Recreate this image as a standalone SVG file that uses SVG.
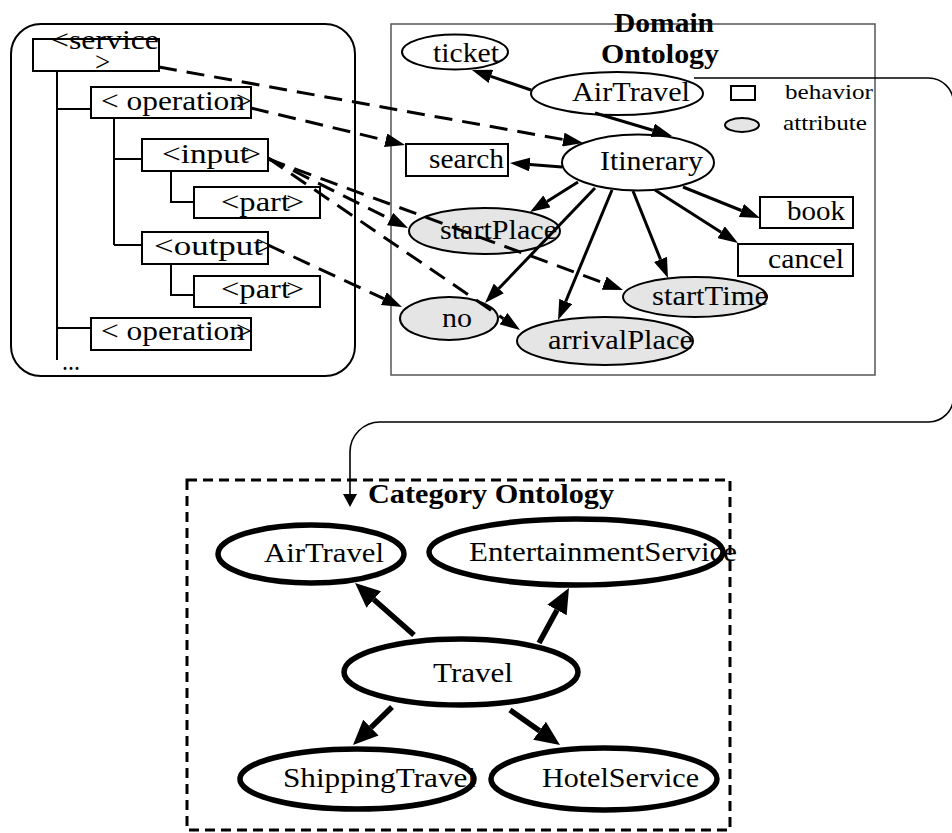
<svg xmlns="http://www.w3.org/2000/svg" width="952" height="833" viewBox="0 0 952 833">
  <style>
    text { font-family: "Liberation Serif", "Times New Roman", serif; font-size: 27px; fill: #000; }
    .ttl { font-weight: bold; }
    .leg { font-size: 22px; }
    .box { fill: #fff; stroke: #000; stroke-width: 2; }
    .tree { fill: none; stroke: #000; stroke-width: 2; }
    .node { fill: #fff; stroke: #000; stroke-width: 2; }
    .attr { fill: #e5e5e5; stroke: #000; stroke-width: 2; }
    .cat { fill: #fff; stroke: #000; stroke-width: 5.5; }
    .solid { fill: none; stroke: #000; stroke-width: 3; marker-end: url(#ah); }
    .dash { fill: none; stroke: #000; stroke-width: 3; stroke-dasharray: 18 10; marker-end: url(#ah); }
    .thick { fill: none; stroke: #000; stroke-width: 5.5; marker-end: url(#ahBig); }
    .link { fill: none; stroke: #000; stroke-width: 1.6; marker-end: url(#ahSmall); }
  </style>
  <defs>
    <marker id="ah" viewBox="0 0 20 14" markerWidth="20" markerHeight="14" refX="0" refY="7" orient="auto" markerUnits="userSpaceOnUse">
      <path d="M0,0 L20,7 L0,14 z" fill="#000"/>
    </marker>
    <marker id="ahBig" viewBox="0 0 25 22" markerWidth="25" markerHeight="22" refX="0" refY="11" orient="auto" markerUnits="userSpaceOnUse">
      <path d="M0,0 L25,11 L0,22 z" fill="#000"/>
    </marker>
    <marker id="ahSmall" viewBox="0 0 13 14" markerWidth="13" markerHeight="14" refX="0" refY="7" orient="auto" markerUnits="userSpaceOnUse">
      <path d="M0,0 L13,7 L0,14 z" fill="#000"/>
    </marker>
  </defs>

  <rect width="952" height="833" fill="#fff"/>

  <!-- WSDL structure panel -->
  <g id="wsdl-panel">
    <rect x="11" y="24" width="344" height="352" rx="30" ry="30" fill="none" stroke="#000" stroke-width="2"/>
    <path class="tree" d="M57,71 V360 M57,109 H91 M57,328 H91 M114,118 V245 M114,159 H142 M114,245 H142 M171,171 V202 H194 M171,264 V295 H194"/>
    <text x="62" y="370" textLength="18" lengthAdjust="spacingAndGlyphs">...</text>
  </g>
  <g id="service">
    <rect class="box" x="33" y="39" width="126" height="32"/>
    <!-- label wraps onto a second line inside the box -->
    <text><tspan x="51" y="49" textLength="108" lengthAdjust="spacingAndGlyphs">&lt;service</tspan><tspan x="95" y="71">&gt;</tspan></text>
  </g>
  <g id="operation-1">
    <rect class="box" x="91" y="87" width="160" height="31"/>
    <text x="101" y="110" textLength="144" lengthAdjust="spacingAndGlyphs">&lt; operation</text>
    <text x="236" y="110" textLength="16" lengthAdjust="spacingAndGlyphs">&gt;</text>
  </g>
  <g id="input">
    <rect class="box" x="142" y="139" width="126" height="32"/>
    <text x="162" y="163" textLength="87" lengthAdjust="spacingAndGlyphs">&lt;input</text>
    <text x="243" y="163" textLength="18" lengthAdjust="spacingAndGlyphs">&gt;</text>
  </g>
  <g id="input-part">
    <rect class="box" x="194" y="187" width="126" height="31"/>
    <text x="221" y="211" textLength="69" lengthAdjust="spacingAndGlyphs">&lt;part</text>
    <text x="286" y="211" textLength="18" lengthAdjust="spacingAndGlyphs">&gt;</text>
  </g>
  <g id="output">
    <rect class="box" x="142" y="232" width="126" height="32"/>
    <text x="154" y="255" textLength="109" lengthAdjust="spacingAndGlyphs">&lt;output</text>
    <text x="257" y="255" textLength="16" lengthAdjust="spacingAndGlyphs">&gt;</text>
  </g>
  <g id="output-part">
    <rect class="box" x="194" y="276" width="126" height="31"/>
    <text x="221" y="298" textLength="69" lengthAdjust="spacingAndGlyphs">&lt;part</text>
    <text x="286" y="298" textLength="18" lengthAdjust="spacingAndGlyphs">&gt;</text>
  </g>
  <g id="operation-2">
    <rect class="box" x="91" y="318" width="160" height="32"/>
    <text x="101" y="340" textLength="144" lengthAdjust="spacingAndGlyphs">&lt; operation</text>
    <text x="236" y="340" textLength="16" lengthAdjust="spacingAndGlyphs">&gt;</text>
  </g>

  <!-- Domain ontology frame and legend -->
  <g id="domain-ontology">
    <rect x="391" y="24" width="484" height="351" fill="none" stroke="#555" stroke-width="1.5"/>
    <text class="ttl" x="614" y="32" textLength="100" lengthAdjust="spacingAndGlyphs">Domain</text>
    <text class="ttl" x="601" y="63" textLength="118" lengthAdjust="spacingAndGlyphs">Ontology</text>
    <rect x="731" y="86" width="24" height="14" fill="#fff" stroke="#000" stroke-width="2"/>
    <text class="leg" x="785" y="99" textLength="88" lengthAdjust="spacingAndGlyphs">behavior</text>
    <ellipse cx="742" cy="125" rx="17" ry="7" fill="#e5e5e5" stroke="#000" stroke-width="2"/>
    <text class="leg" x="783" y="130" textLength="84" lengthAdjust="spacingAndGlyphs">attribute</text>
  </g>
  <g id="ticket">
    <ellipse class="node" cx="455" cy="52" rx="53" ry="17.5"/>
    <text x="433" y="62" textLength="66" lengthAdjust="spacingAndGlyphs">ticket</text>
  </g>
  <g id="dom-airtravel">
    <ellipse class="node" cx="617" cy="93.5" rx="86" ry="21.5"/>
    <text x="572" y="101" textLength="118" lengthAdjust="spacingAndGlyphs">AirTravel</text>
  </g>
  <g id="itinerary">
    <ellipse class="node" cx="638" cy="162.5" rx="76" ry="28"/>
    <text x="600" y="170" textLength="103" lengthAdjust="spacingAndGlyphs">Itinerary</text>
  </g>
  <g id="search">
    <rect class="box" x="406" y="144" width="102" height="32"/>
    <text x="429" y="168" textLength="75" lengthAdjust="spacingAndGlyphs">search</text>
  </g>
  <g id="book">
    <rect class="box" x="760" y="197" width="93" height="31"/>
    <text x="787" y="220" textLength="58" lengthAdjust="spacingAndGlyphs">book</text>
  </g>
  <g id="cancel">
    <rect class="box" x="738" y="244" width="115" height="32"/>
    <text x="768" y="268" textLength="76" lengthAdjust="spacingAndGlyphs">cancel</text>
  </g>
  <g id="startPlace">
    <ellipse class="attr" cx="484.5" cy="231" rx="75.5" ry="23"/>
    <text x="440" y="239" textLength="117" lengthAdjust="spacingAndGlyphs">startPlace</text>
  </g>
  <g id="startTime">
    <ellipse class="attr" cx="695" cy="297" rx="72" ry="20"/>
    <text x="652" y="305" textLength="116" lengthAdjust="spacingAndGlyphs">startTime</text>
  </g>
  <g id="no">
    <ellipse class="attr" cx="449" cy="318.5" rx="49" ry="21.5"/>
    <text x="442" y="327" textLength="30" lengthAdjust="spacingAndGlyphs">no</text>
  </g>
  <g id="arrivalPlace">
    <ellipse class="attr" cx="605" cy="341" rx="88" ry="24"/>
    <text x="548" y="349" textLength="145" lengthAdjust="spacingAndGlyphs">arrivalPlace</text>
  </g>

  <!-- Category ontology -->
  <g id="category-ontology">
    <rect x="187" y="480" width="543" height="350" fill="none" stroke="#000" stroke-width="3" stroke-dasharray="10 6"/>
    <text class="ttl" x="368" y="503" textLength="246" lengthAdjust="spacingAndGlyphs">Category Ontology</text>
  </g>
  <g id="cat-airtravel">
    <ellipse class="cat" cx="311" cy="554" rx="93" ry="29"/>
    <text x="264" y="562" textLength="120" lengthAdjust="spacingAndGlyphs">AirTravel</text>
  </g>
  <g id="cat-entertainment">
    <ellipse class="cat" cx="576" cy="552" rx="147" ry="33"/>
    <text x="469" y="561" textLength="268" lengthAdjust="spacingAndGlyphs">EntertainmentService</text>
  </g>
  <g id="cat-travel">
    <ellipse class="cat" cx="461" cy="672" rx="117" ry="33"/>
    <text x="433" y="682" textLength="80" lengthAdjust="spacingAndGlyphs">Travel</text>
  </g>
  <g id="cat-shipping">
    <ellipse class="cat" cx="357" cy="779" rx="117" ry="30"/>
    <text x="283" y="787" textLength="193" lengthAdjust="spacingAndGlyphs">ShippingTravel</text>
  </g>
  <g id="cat-hotel">
    <ellipse class="cat" cx="604" cy="779" rx="113" ry="31"/>
    <text x="542" y="787" textLength="157" lengthAdjust="spacingAndGlyphs">HotelService</text>
  </g>

  <!-- Connectors -->
  <g id="connectors">
    <!-- domain ontology relations -->
    <path class="solid" d="M531,90 L490.9,76.4"/>
    <path class="solid" d="M595,113 L652.8,130.3"/>
    <path class="solid" d="M562,167 L529.9,164.5"/>
    <path class="solid" d="M683,187 L741.4,210.5"/>
    <path class="solid" d="M655,190 L721.1,232.2"/>
    <path class="solid" d="M633,191 L660.5,259.4"/>
    <path class="solid" d="M612,190 L565.7,301.5"/>
    <path class="solid" d="M595,188 L498.8,288.5"/>
    <path class="solid" d="M578,182 L547,201.4"/>
    <!-- WSDL element to ontology concept mappings -->
    <path class="dash" d="M159,67 L563.3,139.5"/>
    <path class="dash" d="M251,108 L385.6,140.3"/>
    <path class="dash" d="M268,158 L390.1,219.1"/>
    <path class="dash" d="M268,159 L604.2,283.1"/>
    <path class="dash" d="M268,158 L503.5,318.7"/>
    <path class="dash" d="M268,245 L383.8,298.6"/>
    <!-- domain concept to category -->
    <path class="link" d="M694,78 H928.5 A25,25 0 0 1 953.5,103 V397 A25,25 0 0 1 928.5,422 H380 A30,30 0 0 0 350,452 V494"/>
    <!-- category hierarchy -->
    <path class="thick" d="M414,635 L373.8,599.5"/>
    <path class="thick" d="M539,643 L557,610"/>
    <path class="thick" d="M392,707 L370.9,727.6"/>
    <path class="thick" d="M510,710 L539.5,730.7"/>
  </g>
</svg>
